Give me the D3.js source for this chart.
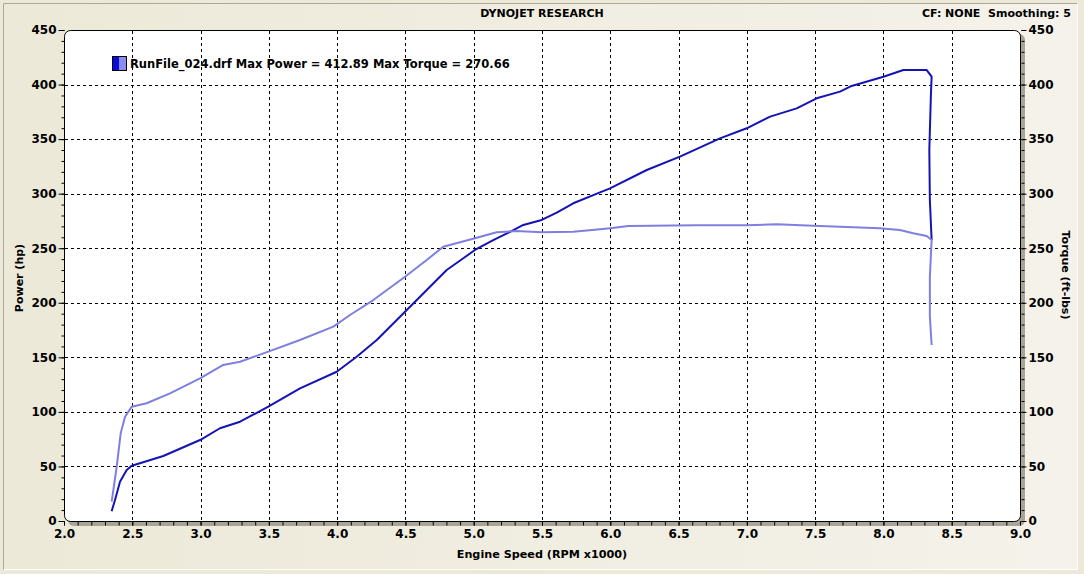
<!DOCTYPE html>
<html><head><meta charset="utf-8">
<script src="https://cdn.jsdelivr.net/npm/d3@7"></script>
<style>
html,body{margin:0;padding:0;background:#ECE9D8;}
svg{display:block;}
text{font-family:"DejaVu Sans",Verdana,sans-serif;font-weight:bold;fill:#000;white-space:pre;}
</style></head><body>
<svg id="c" width="1084" height="574"></svg>
<script>
// ---- data ----
const powerRpm = [2.349,2.373,2.41,2.459,2.496,2.556,2.727,2.996,3.142,3.289,3.496,3.728,3.997,4.143,4.29,4.497,4.656,4.802,4.924,5.009,5.143,5.266,5.363,5.498,5.608,5.729,5.925,5.998,6.267,6.51,6.803,6.999,7.17,7.365,7.511,7.682,7.767,8.0,8.146,8.317,8.353,8.348,8.336,8.34,8.353];
const powerHp  = [9,19,36,46.7,50.7,52.9,59.6,74.2,85,91,104.8,121.6,136.8,150.6,165.9,191.8,211.7,230,240.8,248.4,257.5,265,271.3,275.9,282.6,291.2,301.2,304.9,321.7,333.9,350.7,359.9,370.6,378.2,387.4,393.5,398.7,407.2,413.3,413.3,407.2,392,340,294,257.5];
const torqueRpm = [2.349,2.386,2.415,2.447,2.496,2.605,2.776,2.996,3.166,3.289,3.496,3.728,3.972,4.094,4.265,4.497,4.656,4.777,5.009,5.168,5.315,5.498,5.729,5.925,5.998,6.132,6.633,6.999,7.218,7.486,7.682,7.974,8.12,8.218,8.317,8.353,8.34,8.34,8.353];
const torqueLb  = [17.7,49.8,80.4,95.6,104.8,107.9,117,130.8,143,146,155.2,165.9,178.1,188.8,202.5,223.9,239.2,251.4,259.1,264.6,265.8,264.6,265.1,267.3,268.3,270.4,271,271,271.9,270.6,269.7,268.3,266.7,263.7,261.2,257.5,223.9,187.2,161.3];
const xTicks = [2.0,2.5,3.0,3.5,4.0,4.5,5.0,5.5,6.0,6.5,7.0,7.5,8.0,8.5,9.0];
const yTicks = [0,50,100,150,200,250,300,350,400,450];
const legendText = "RunFile_024.drf Max Power = 412.89 Max Torque = 270.66";
const titleText = "DYNOJET RESEARCH";
const infoText = "CF: NONE  Smoothing: 5";

// ---- layout ----
const W=1084,H=574;
const L=64,R=1020,T=30,B=521;
const svg=d3.select("#c");
const defs=svg.append("defs");
const g1=defs.append("linearGradient").attr("id","bg").attr("x1",0).attr("x2",1).attr("y1",0).attr("y2",0);
g1.append("stop").attr("offset","0").attr("stop-color","#ECE9D8");
g1.append("stop").attr("offset","1").attr("stop-color","#F4F2EA");
svg.append("rect").attr("width",W).attr("height",H).attr("fill","#ECE9D8");
svg.append("rect").attr("x",4).attr("y",4).attr("width",1073).attr("height",565).attr("fill","url(#bg)");
svg.append("path").attr("d","M3.5,569.5V3.5H1077.5").attr("fill","none").attr("stroke","#ACA899");
svg.append("path").attr("d","M4.5,569.5H1077.5V3.5").attr("fill","none").attr("stroke","#FFFFFF");

const x=d3.scaleLinear().domain([2,9]).range([L,R]);
const y=d3.scaleLinear().domain([0,450]).range([B,T]);

svg.append("rect").attr("x",L+4).attr("y",T+4).attr("width",R-L+1).attr("height",B-T+1).attr("rx",6).attr("fill","#A9A596");
svg.append("rect").attr("x",L+0.5).attr("y",T+0.5).attr("width",R-L).attr("height",B-T).attr("rx",6).attr("fill","#fff").attr("stroke","#000");

const grid=svg.append("g").attr("stroke","#000").attr("stroke-dasharray","3,3").attr("stroke-width",1);
xTicks.filter(v=>v>2&&v<9).forEach(v=>{
  grid.append("line").attr("x1",Math.round(x(v))+0.5).attr("x2",Math.round(x(v))+0.5).attr("y1",T+1).attr("y2",B);
});
yTicks.filter(v=>v>0&&v<450).forEach(v=>{
  grid.append("line").attr("y1",Math.round(y(v))+0.5).attr("y2",Math.round(y(v))+0.5).attr("x1",L+1).attr("x2",R);
});

const minorY=d3.range(0,451,10);
const minorX=d3.range(20,91,1).map(v=>v/10);
function styleAxis(sel){sel.select(".domain").remove();sel.selectAll("line").attr("stroke","#000");sel.selectAll("text").attr("font-size","12px").attr("font-family","DejaVu Sans").attr("font-weight","bold").attr("fill","#000");}
svg.append("g").attr("transform",`translate(${L+0.5},0)`).call(d3.axisLeft(y).tickValues(minorY).tickSize(3).tickFormat("")).call(styleAxis);
svg.append("g").attr("transform",`translate(${L+0.5},0)`).call(d3.axisLeft(y).tickValues(yTicks).tickSize(6).tickPadding(2).tickFormat(d3.format("d"))).call(styleAxis);
svg.append("g").attr("transform",`translate(${R+1.5},0)`).call(d3.axisRight(y).tickValues(minorY).tickSize(3).tickFormat("")).call(styleAxis);
svg.append("g").attr("transform",`translate(${R+1.5},0)`).call(d3.axisRight(y).tickValues(yTicks).tickSize(5).tickPadding(2).tickFormat(d3.format("d"))).call(styleAxis);
svg.append("g").attr("transform",`translate(0,${B+0.5})`).call(d3.axisBottom(x).tickValues(minorX).tickSize(4).tickFormat("")).call(styleAxis);
svg.append("g").attr("transform",`translate(0,${B+0.5})`).call(d3.axisBottom(x).tickValues(xTicks).tickSize(4).tickPadding(4).tickFormat(d3.format(".1f"))).call(styleAxis);

const lineP=d3.line().x((d,i)=>x(powerRpm[i])).y(d=>y(d)).curve(d3.curveLinear);
svg.append("path").attr("d",lineP(powerHp)).attr("fill","none").attr("stroke","#1414B4").attr("stroke-width",2).attr("stroke-linejoin","round");
const lineT=d3.line().x((d,i)=>x(torqueRpm[i])).y(d=>y(d)).curve(d3.curveLinear);
svg.append("path").attr("d",lineT(torqueLb)).attr("fill","none").attr("stroke","#7F7FE0").attr("stroke-width",2).attr("stroke-linejoin","round");

svg.append("rect").attr("x",112.5).attr("y",56.5).attr("width",7).attr("height",14).attr("fill","#0A0ADC");
svg.append("rect").attr("x",119.5).attr("y",56.5).attr("width",7).attr("height",14).attr("fill","#8C8CF0");
svg.append("rect").attr("x",112.5).attr("y",56.5).attr("width",14).attr("height",14).attr("fill","none").attr("stroke","#000");
svg.append("text").attr("x",130).attr("y",68).attr("font-size","11.5px").text(legendText);

svg.append("text").attr("x",542).attr("y",17).attr("text-anchor","middle").attr("font-size","11px").text(titleText);
svg.append("text").attr("x",1071).attr("y",17).attr("text-anchor","end").attr("font-size","11px").attr("xml:space","preserve").text(infoText);
svg.append("text").attr("x",542).attr("y",558).attr("text-anchor","middle").attr("font-size","11.2px").text("Engine Speed (RPM x1000)");
svg.append("text").attr("transform","translate(23,278) rotate(-90)").attr("text-anchor","middle").attr("font-size","11px").text("Power (hp)");
svg.append("text").attr("transform","translate(1062,275) rotate(90)").attr("text-anchor","middle").attr("font-size","11px").text("Torque (ft-lbs)");
</script></body></html>
